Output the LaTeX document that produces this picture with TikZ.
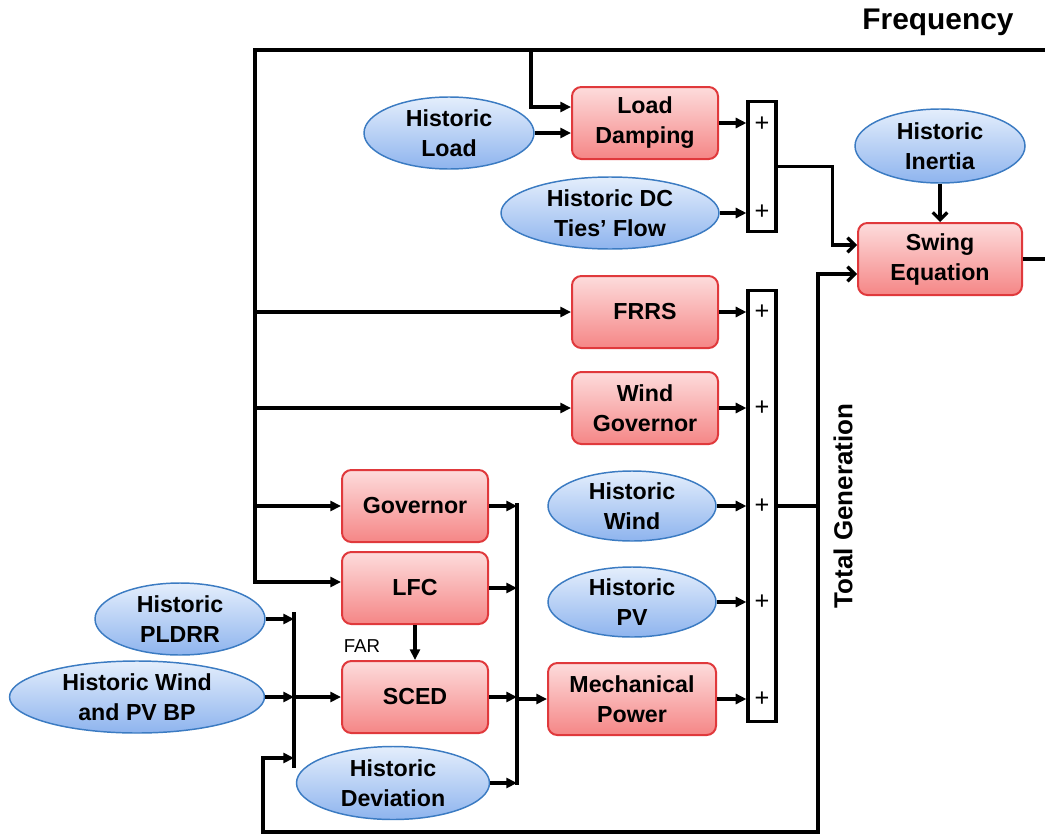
\documentclass[tikz,border=0pt]{standalone}
\usepackage{fontspec}
\setmainfont{Liberation Sans}
\usetikzlibrary{arrows.meta,shapes.geometric}

\definecolor{boxtop}{HTML}{FDDCDC}
\definecolor{boxbot}{HTML}{F58686}
\definecolor{boxline}{HTML}{E0393C}
\definecolor{elltop}{HTML}{E4EEFC}
\definecolor{ellbot}{HTML}{8EB4EE}
\definecolor{ellline}{HTML}{3B7BC2}

\begin{document}
\begin{tikzpicture}[x=0.75pt,y=-0.75pt,
    font=\fontsize{17.4}{22.5}\selectfont\bfseries,
    block/.style={draw=boxline, line width=1.5pt, rounded corners=7pt,
        top color=boxtop, bottom color=boxbot, minimum width=109.5pt,
        minimum height=54pt, align=center, inner sep=0pt},
    hist/.style={ellipse, draw=ellline, line width=1.1pt, top color=elltop,
        bottom color=ellbot, minimum width=127.5pt, minimum height=54pt,
        align=center, inner sep=0pt},
    summer/.style={draw, line width=2.4pt, minimum width=21pt, inner sep=0pt},
    plus/.style={font=\fontsize{19}{19}\selectfont\mdseries},
    wire/.style={line width=2.4pt},
    sig/.style={line width=2.4pt, -{Triangle[length=8pt,width=7.5pt]}},
    into/.style={line width=2.4pt, -{Straight Barb[length=5.5pt,width=11pt]}}]

    \useasboundingbox (0,0) rectangle (1045,835);

    % Frequency loop
    \node (freq) at (938,22) {\fontsize{22.4}{26}\selectfont Frequency};
    \coordinate (fr) at (1045,50);
    \coordinate (tl) at (255,50);
    \coordinate (tb) at (531,50);

    % Load side
    \node[hist] (load) at (449,133) {Historic\\Load};
    \node[block] (damping) at (645,123) {Load\\Damping};
    \node[hist, minimum width=163.5pt] (dcflow) at (610,213) {Historic DC\\Ties’ Flow};
    \node[summer, minimum height=97.5pt] (sum1) at (762,166.5) {};
    \node[plus] (p1) at (762,124) {+};
    \node[plus] (p2) at (762,212) {+};

    % Swing equation
    \node[hist, minimum height=55.5pt] (inertia) at (940,146) {Historic\\Inertia};
    \node[block, minimum width=123pt] (swing) at (940,259) {Swing\\Equation};

    % Generation side
    \node[block] (frrs) at (645,312) {FRRS};
    \node[block] (windgov) at (645,408) {Wind\\Governor};
    \node[hist, minimum width=126pt, minimum height=52.5pt] (wind) at (632,506) {Historic\\Wind};
    \node[hist, minimum width=126pt, minimum height=52.5pt] (pv) at (632,602) {Historic\\PV};
    \node[block, minimum width=126pt] (mech) at (632,699) {Mechanical\\Power};
    \node[summer, minimum height=323pt] (sum2) at (762,506) {};
    \node[plus] (p3) at (762,312) {+};
    \node[plus] (p4) at (762,408) {+};
    \node[plus] (p5) at (762,506) {+};
    \node[plus] (p6) at (762,602) {+};
    \node[plus] (p7) at (762,699) {+};
    \node[rotate=90] (totgen) at (843,506) {\fontsize{19.5}{22}\selectfont Total Generation};

    % Controllers
    \node[block] (governor) at (415,506) {Governor};
    \node[block] (lfc) at (415,588) {LFC};
    \node[block] (sced) at (415,697) {SCED};
    \node[font=\fontsize{14}{14}\selectfont\mdseries] (far) at (362,646) {FAR};
    \node[hist, minimum width=144.75pt, minimum height=54.75pt] (deviation) at (393,783) {Historic\\Deviation};
    \node[hist] (pldrr) at (180,619) {Historic\\PLDRR};
    \node[hist, minimum width=191.25pt] (windpv) at (137,697) {Historic Wind\\and PV BP};

    % Collector bars
    \coordinate (bar1top) at (294,612);
    \coordinate (bar1bot) at (294,768);
    \coordinate (bar2top) at (517,503);
    \coordinate (bar2bot) at (517,785);
    \draw[wire] (bar1top) -- (bar1bot);
    \draw[wire] (bar2top) -- (bar2bot);

    % Feedback wiring
    \coordinate (tg) at (818,506);
    \coordinate (fbr) at (818,832);
    \coordinate (fbl) at (263,832);
    \coordinate (fbin) at (294,758);
    \draw[wire] (swing.east) -- (swing.east -| fr);
    \draw[sig] (fr) -- (tl) |- ([yshift=4.5pt]lfc.west);
    \draw[sig] (tb) |- ([yshift=12pt]damping.west);
    \draw[sig] (tl |- frrs) -- (frrs);
    \draw[sig] (tl |- windgov) -- (windgov);
    \draw[sig] (tl |- governor) -- (governor);
    \draw[sig] (load.east) -- (load.east -| damping.west);

    \draw[sig] (damping.east) -- (damping.east -| sum1.west);
    \draw[sig] (dcflow.east) -- (dcflow.east -| sum1.west);
    \draw[into] (sum1.east) -- ++(55,0) |- ([yshift=10.5pt]swing.west);
    \draw[into] (inertia.south) -- (swing.north);

    \draw[sig] (frrs.east) -- (frrs.east -| sum2.west);
    \draw[sig] (windgov.east) -- (windgov.east -| sum2.west);
    \draw[sig] (wind.east) -- (wind.east -| sum2.west);
    \draw[sig] (pv.east) -- (pv.east -| sum2.west);
    \draw[sig] (mech.east) -- (mech.east -| sum2.west);
    \draw[wire] (sum2.east) -- (tg);
    \draw[into] (tg) |- ([yshift=-11.25pt]swing.west);
    \draw[sig] (tg) -- (fbr) -- (fbl) |- (fbin);

    \draw[sig] (governor.east) -- (governor.east -| bar2top);
    \draw[sig] (lfc.east) -- (lfc.east -| bar2top);
    \draw[sig] (sced.east) -- (sced.east -| bar2top);
    \draw[sig] (deviation.east) -- (deviation.east -| bar2top);
    \draw[sig] (bar2top |- mech) -- (mech);
    \draw[sig] (lfc.south) -- (sced.north);

    \draw[sig] (pldrr.east) -- (pldrr.east -| bar1top);
    \draw[sig] (windpv.east) -- (windpv.east -| bar1top);
    \draw[sig] (bar1top |- sced) -- (sced);

\end{tikzpicture}
\end{document}
